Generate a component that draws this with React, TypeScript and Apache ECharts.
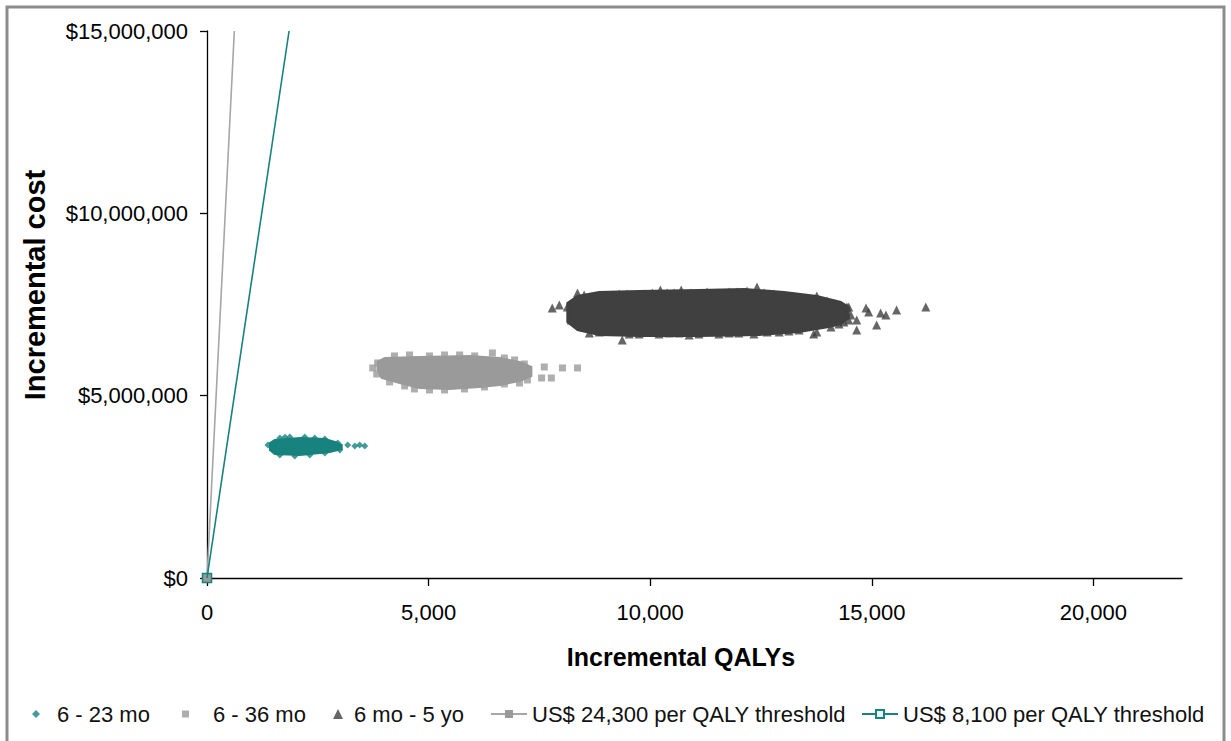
import React, { useEffect, useRef } from 'react';
import * as echarts from 'echarts';

const FONT = "'Liberation Sans', Arial, Helvetica, sans-serif";
const TEAL = '#17827e';
const LIGHT_GRAY = '#9a9a9a';
const DARK_GRAY = '#404040';
const LINE_GRAY = '#a6a6a6';

const xTickValues = [0, 5000, 10000, 15000, 20000];
const yTickValues = [0, 5000000, 10000000, 15000000];

const seriesNames = ['6 - 23 mo', '6 - 36 mo', '6 mo - 5 yo', 'US$ 24,300 per QALY threshold', 'US$ 8,100 per QALY threshold'];

// 6 - 23 mo : dense core outline (QALYs, cost) and individually visible points
const teal23Envelope = [
  [1420, 3700000], [1530, 3785000], [2095, 3840000], [2660, 3812000], [2885, 3730000], [3040, 3648000],
  [3040, 3538000], [2770, 3456000], [2095, 3374000], [1530, 3401000], [1420, 3511000],
];
const teal23Points = [
  [1375, 3650000], [1645, 3840000], [1760, 3860000], [1870, 3867000], [2205, 3867000], [2430, 3840000],
  [2660, 3812000], [2950, 3703000], [3175, 3648000], [3335, 3620000], [3445, 3648000], [3560, 3620000],
  [1645, 3374000], [1980, 3346000], [2320, 3374000], [2660, 3428000], [2995, 3511000], [1500, 3560000],
];

// 6 - 36 mo
const gray36Envelope = [
  [3850, 5924000], [4010, 6034000], [4800, 6061000], [5920, 6089000], [6600, 6034000], [7050, 5924000],
  [7320, 5787000], [7320, 5540000], [7050, 5403000], [6600, 5293000], [6150, 5239000], [5470, 5184000],
  [4800, 5211000], [4350, 5348000], [3940, 5485000], [3850, 5705000],
];
const gray36Points = [
  [4230, 6089000], [4570, 6116000], [5020, 6089000], [5360, 6116000], [5700, 6116000], [6040, 6089000],
  [6440, 6171000], [6710, 6034000], [6940, 5979000], [7160, 5869000],
  [4120, 5376000], [4460, 5266000], [4680, 5184000], [5020, 5156000], [5360, 5156000], [5810, 5184000],
  [6260, 5239000], [6710, 5321000], [7050, 5348000], [7230, 5431000],
  [3740, 5760000], [3850, 5897000], [3830, 5595000],
  [7550, 5485000], [7610, 5787000], [7770, 5485000], [8020, 5760000], [8360, 5760000],
];

// 6 mo - 5 yo
const dark5Envelope = [
  [8130, 7542000], [8360, 7734000], [8850, 7844000], [9750, 7872000], [11100, 7899000], [12120, 7926000],
  [13020, 7844000], [13760, 7734000], [14300, 7570000], [14480, 7433000], [14480, 7131000], [14300, 6966000],
  [14030, 6884000], [13360, 6747000], [12460, 6665000], [11100, 6637000], [9750, 6637000], [8850, 6665000],
  [8360, 6802000], [8130, 7021000],
];
const dark5Points = [
  [8360, 7817000], [8510, 7762000], [8740, 7680000], [8920, 7734000], [9120, 7762000], [9300, 7789000],
  [9480, 7789000], [9870, 7789000], [10045, 7817000], [10230, 7899000], [10383, 7817000], [10540, 7817000],
  [10700, 7899000], [10920, 7817000], [11284, 7844000], [11510, 7817000], [11780, 7844000], [11960, 7844000],
  [12185, 7872000], [12410, 7981000], [12570, 7817000], [12790, 7789000], [13020, 7734000], [13240, 7707000],
  [13470, 7652000], [13760, 7734000], [13990, 7597000], [14210, 7515000], [14480, 7433000],
  [8220, 7076000], [8510, 6884000], [8626, 6720000], [8850, 6747000], [9080, 6774000], [9370, 6528000],
  [9527, 6692000], [9750, 6692000], [10200, 6692000], [10428, 6720000], [10650, 6720000], [10879, 6665000],
  [11100, 6692000], [11550, 6692000], [11780, 6720000], [12000, 6720000], [12340, 6692000], [12640, 6747000],
  [12910, 6747000], [13131, 6774000], [13360, 6802000], [13690, 6692000], [13760, 6747000], [14080, 6884000],
  [14260, 6966000], [14480, 7076000],
  [14144, 7488000], [14302, 7296000], [14527, 7213000], [13942, 7131000], [14370, 7021000],
  [7790, 7405000], [7950, 7488000], [8130, 7433000], [14440, 7433000], [14660, 7076000], [14660, 6802000],
  [14870, 7405000], [14930, 7296000], [15110, 6939000], [15200, 7268000], [15320, 7213000], [15560, 7350000],
  [16220, 7433000],
];

// willingness-to-pay threshold lines, from origin to top of the cost axis
const threshold24300 = [[0, 0], [617, 15000000]];
const threshold8100 = [[0, 0], [1852, 15000000]];

function envelopeSeries(name: string, env: number[][], color: string) {
  return {
    type: 'custom',
    name,
    coordinateSystem: 'cartesian2d',
    silent: true,
    z: 2,
    data: [env[0]],
    renderItem: (_params: any, api: any) => ({
      type: 'polygon',
      shape: { points: env.map((p) => api.coord(p)) },
      style: { fill: color, stroke: color, lineWidth: 2 },
    }),
  };
}

const legendCommon = {
  orient: 'horizontal',
  padding: 0,
  top: 703,
  selectedMode: false,
  symbolKeepAspect: true,
};
const legendText = (padLeft: number) => ({
  fontSize: 22,
  fontFamily: FONT,
  color: '#111',
  padding: [0, 0, 0, padLeft],
});

export default function App() {
  const ref = useRef<HTMLDivElement>(null);
  useEffect(() => {
    const chart = echarts.init(ref.current!, null, { renderer: 'svg' });
    const option: any = {
      animation: false,
      backgroundColor: '#ffffff',
      grid: { left: 207, top: 31, right: 49, bottom: 163, containLabel: false },
      xAxis: {
        type: 'value',
        min: 0,
        max: 22000,
        interval: 5000,
        splitLine: { show: false },
        axisLine: { show: true, onZero: false, lineStyle: { color: '#000', width: 1.3 } },
        axisTick: { show: true, length: 8, customValues: xTickValues, lineStyle: { color: '#000', width: 1.3 } },
        axisLabel: {
          customValues: xTickValues,
          formatter: (v: number) => v.toLocaleString('en-US'),
          fontSize: 22,
          fontFamily: FONT,
          color: '#000',
          margin: 23,
        },
      },
      yAxis: {
        type: 'value',
        min: 0,
        max: 15000000,
        interval: 5000000,
        splitLine: { show: false },
        axisLine: { show: true, onZero: false, lineStyle: { color: '#000', width: 1.3 } },
        axisTick: { show: true, length: 7, customValues: yTickValues, lineStyle: { color: '#000', width: 1.3 } },
        axisLabel: {
          customValues: yTickValues,
          formatter: (v: number) => '$' + v.toLocaleString('en-US'),
          fontSize: 22,
          fontFamily: FONT,
          color: '#000',
          margin: 19,
        },
      },
      legend: [
        { ...legendCommon, left: 32, itemWidth: 8, itemHeight: 8, textStyle: legendText(12), data: [seriesNames[0]] },
        { ...legendCommon, left: 182, itemWidth: 7, itemHeight: 7, textStyle: legendText(19), data: [seriesNames[1]] },
        { ...legendCommon, left: 333, itemWidth: 10, itemHeight: 10, textStyle: legendText(6), data: [seriesNames[2]] },
        { ...legendCommon, left: 490, itemWidth: 36, itemHeight: 10, textStyle: legendText(0), data: [seriesNames[3]] },
        {
          ...legendCommon,
          left: 861,
          itemWidth: 36,
          itemHeight: 10,
          textStyle: legendText(0),
          data: [{ name: seriesNames[4], itemStyle: { color: '#eaf4f3' } }],
        },
      ],
      graphic: [
        {
          type: 'rect',
          silent: true,
          z: -10,
          shape: { x: 7, y: 7, width: 1217, height: 780 },
          style: { fill: 'none', stroke: '#8c8c8c', lineWidth: 3 },
        },
        {
          type: 'text',
          x: 681,
          y: 657,
          silent: true,
          style: {
            text: 'Incremental QALYs',
            fontSize: 25,
            fontWeight: 'bold',
            fontFamily: FONT,
            fill: '#000',
            align: 'center',
            verticalAlign: 'middle',
          },
        },
        {
          type: 'text',
          x: 35,
          y: 285,
          rotation: Math.PI / 2,
          silent: true,
          style: {
            text: 'Incremental cost',
            fontSize: 29,
            fontWeight: 'bold',
            fontFamily: FONT,
            fill: '#000',
            align: 'center',
            verticalAlign: 'middle',
          },
        },
      ],
      series: [
        envelopeSeries('body 6 - 23 mo', teal23Envelope, TEAL),
        envelopeSeries('body 6 - 36 mo', gray36Envelope, LIGHT_GRAY),
        envelopeSeries('body 6 mo - 5 yo', dark5Envelope, DARK_GRAY),
        {
          type: 'scatter',
          name: seriesNames[0],
          symbol: 'diamond',
          symbolSize: 7,
          itemStyle: { color: TEAL },
          z: 3,
          data: teal23Points,
        },
        {
          type: 'scatter',
          name: seriesNames[1],
          symbol: 'rect',
          symbolSize: 7,
          itemStyle: { color: LIGHT_GRAY },
          z: 3,
          data: gray36Points,
        },
        {
          type: 'scatter',
          name: seriesNames[2],
          symbol: 'triangle',
          symbolSize: 9,
          itemStyle: { color: DARK_GRAY },
          z: 3,
          data: dark5Points,
        },
        {
          type: 'line',
          name: seriesNames[3],
          symbol: 'rect',
          symbolSize: 8,
          showAllSymbol: true,
          lineStyle: { color: LINE_GRAY, width: 1.6 },
          itemStyle: { color: LIGHT_GRAY },
          z: 4,
          data: [threshold24300[0], { value: threshold24300[1], symbol: 'none' }],
        },
        {
          type: 'line',
          name: seriesNames[4],
          symbol: 'rect',
          symbolSize: 9,
          showAllSymbol: true,
          lineStyle: { color: TEAL, width: 1.6 },
          itemStyle: { color: 'rgba(255,255,255,0)', borderColor: TEAL, borderWidth: 1.5 },
          z: 5,
          data: [threshold8100[0], { value: threshold8100[1], symbol: 'none' }],
        },
      ],
    };
    chart.setOption(option);
    return () => chart.dispose();
  }, []);
  return (
    <div
      ref={ref}
      style={{ position: 'fixed', left: 0, top: 0, width: 1231, height: 741, background: '#fff' }}
    />
  );
}
